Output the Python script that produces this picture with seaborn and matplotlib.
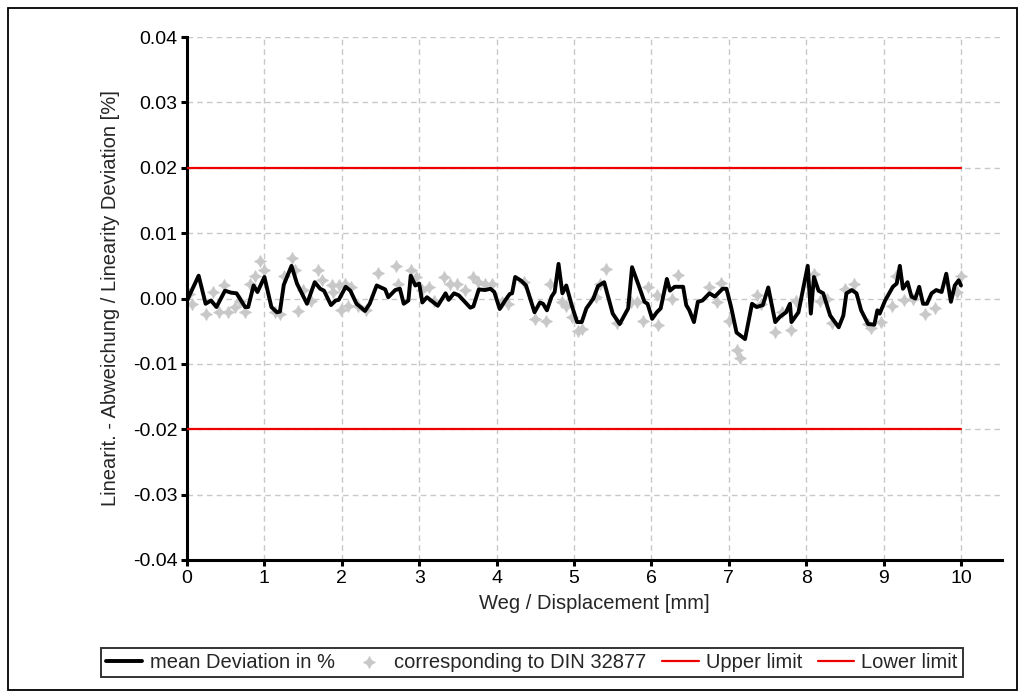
import matplotlib
matplotlib.use('Agg')
import seaborn as sns
import matplotlib.pyplot as plt
from matplotlib.patches import Rectangle
from matplotlib.ticker import FormatStrFormatter, MultipleLocator
import pandas as pd

sns.set_style("whitegrid")
plt.rcParams['font.family'] = ['Liberation Sans', 'DejaVu Sans']
plt.rcParams['axes.unicode_minus'] = False

# mean deviation curve
mean_x = [0.00, 0.15, 0.24, 0.31, 0.38, 0.49, 0.57, 0.64, 0.75, 0.79, 0.86, 0.91, 1.00, 1.09, 1.16,
          1.20, 1.25, 1.35, 1.42, 1.55, 1.65, 1.72, 1.77, 1.86, 1.92, 1.96, 2.05, 2.11, 2.19, 2.30,
          2.36, 2.45, 2.56, 2.60, 2.69, 2.75, 2.80, 2.86, 2.89, 2.95, 3.00, 3.04, 3.10, 3.24, 3.34,
          3.38, 3.45, 3.51, 3.66, 3.70, 3.77, 3.85, 3.92, 3.97, 4.04, 4.11, 4.17, 4.20, 4.24, 4.32,
          4.38, 4.49, 4.56, 4.60, 4.65, 4.71, 4.75, 4.80, 4.85, 4.90, 4.97, 5.04, 5.10, 5.16, 5.25,
          5.31, 5.39, 5.50, 5.59, 5.70, 5.75, 5.83, 5.91, 5.95, 6.01, 6.07, 6.12, 6.20, 6.24, 6.30,
          6.41, 6.45, 6.49, 6.55, 6.60, 6.66, 6.75, 6.82, 6.92, 6.97, 7.03, 7.10, 7.21, 7.30, 7.36,
          7.44, 7.51, 7.60, 7.66, 7.74, 7.79, 7.81, 7.90, 8.02, 8.06, 8.10, 8.16, 8.22, 8.31, 8.42,
          8.48, 8.52, 8.59, 8.65, 8.71, 8.80, 8.88, 8.92, 8.95, 9.02, 9.12, 9.17, 9.21, 9.25, 9.31,
          9.36, 9.41, 9.46, 9.51, 9.56, 9.62, 9.68, 9.75, 9.81, 9.87, 9.92, 9.97, 10.00]
mean_y = [-0.0003, 0.0035, -0.0008, -0.0003, -0.0013, 0.0012, 0.0009, 0.0008, -0.0013, -0.0013,
          0.0020, 0.0010, 0.0033, -0.0013, -0.0021, -0.0020, 0.0021, 0.0050, 0.0023, -0.0008,
          0.0025, 0.0015, 0.0012, -0.0010, -0.0003, -0.0002, 0.0018, 0.0012, -0.0008, -0.0019,
          -0.0008, 0.0020, 0.0014, 0.0002, 0.0013, 0.0015, -0.0008, -0.0003, 0.0035, 0.0020,
          0.0023, -0.0006, 0.0002, -0.0011, 0.0008, -0.0002, 0.0008, 0.0005, -0.0014, -0.0012,
          0.0014, 0.0013, 0.0015, 0.0010, -0.0016, -0.0003, 0.0007, 0.0008, 0.0033, 0.0027,
          0.0020, -0.0021, -0.0006, -0.0008, -0.0018, 0.0003, 0.0010, 0.0053, 0.0008, 0.0020,
          -0.0010, -0.0036, -0.0036, -0.0015, 0.0000, 0.0019, 0.0025, -0.0023, -0.0039, -0.0015,
          0.0048, 0.0022, -0.0005, -0.0008, -0.0031, -0.0021, -0.0015, 0.0030, 0.0012, 0.0018,
          0.0018, -0.0010, -0.0018, -0.0036, -0.0005, -0.0003, 0.0008, 0.0003, 0.0015, 0.0015,
          -0.0013, -0.0052, -0.0062, -0.0008, -0.0013, -0.0010, 0.0017, -0.0036, -0.0028, -0.0021,
          -0.0008, -0.0036, -0.0021, 0.0050, -0.0023, 0.0033, 0.0012, 0.0008, -0.0026, -0.0044,
          -0.0026, 0.0008, 0.0013, 0.0008, -0.0018, -0.0039, -0.0040, -0.0018, -0.0023, -0.0003,
          0.0018, 0.0023, 0.0050, 0.0015, 0.0025, 0.0003, 0.0000, 0.0018, -0.0008, -0.0008,
          0.0008, 0.0013, 0.0010, 0.0038, -0.0005, 0.0020, 0.0028, 0.0020]

# single measurements (grey markers)
din_x = [0.02, 0.06, 0.25, 0.34, 0.41, 0.48, 0.53, 0.62, 0.68, 0.75, 0.81, 0.88, 0.94, 1.00, 1.14,
         1.20, 1.25, 1.35, 1.40, 1.44, 1.50, 1.60, 1.69, 1.74, 1.87, 1.89, 1.96, 1.99, 2.04, 2.08,
         2.12, 2.21, 2.31, 2.47, 2.70, 2.73, 2.90, 2.96, 3.04, 3.13, 3.19, 3.32, 3.40, 3.49, 3.59,
         3.70, 3.76, 3.85, 3.94, 4.07, 4.15, 4.36, 4.49, 4.64, 4.69, 4.84, 4.90, 4.97, 5.05, 5.10,
         5.28, 5.34, 5.41, 5.56, 5.73, 5.81, 5.89, 5.95, 6.07, 6.09, 6.26, 6.35, 6.75, 6.85, 6.90,
         7.00, 7.10, 7.15, 7.36, 7.41, 7.60, 7.69, 7.81, 7.87, 8.10, 8.18, 8.27, 8.33, 8.50, 8.62,
         8.80, 8.84, 8.97, 9.11, 9.16, 9.27, 9.38, 9.53, 9.67, 9.95, 10.00]
din_y = [0.0007, -0.0008, -0.0023, 0.0010, -0.0021, 0.0020, -0.0021, -0.0013, -0.0003, -0.0021,
         0.0023, 0.0035, 0.0058, 0.0043, -0.0021, -0.0023, 0.0035, 0.0062, 0.0043, -0.0019,
         0.0013, -0.0003, 0.0043, 0.0029, 0.0021, 0.0010, 0.0021, -0.0018, 0.0022, -0.0012,
         0.0017, -0.0012, -0.0018, 0.0039, 0.0050, 0.0023, 0.0043, 0.0033, 0.0013, 0.0018,
         -0.0003, 0.0033, 0.0023, 0.0023, 0.0013, 0.0033, 0.0025, 0.0023, 0.0023, -0.0006,
         -0.0008, 0.0025, -0.0031, -0.0035, 0.0023, -0.0005, -0.0012, -0.0028, -0.0049, -0.0047,
         0.0003, 0.0022, 0.0045, -0.0037, -0.0006, -0.0006, -0.0035, 0.0018, 0.0005, -0.0040,
         0.0000, 0.0036, 0.0017, -0.0006, 0.0024, -0.0035, -0.0078, -0.0091, 0.0005, -0.0008,
         -0.0051, -0.0021, -0.0048, -0.0003, 0.0038, -0.0003, 0.0000, -0.0038, 0.0015, 0.0022,
         -0.0039, -0.0045, -0.0036, -0.0011, 0.0034, -0.0002, -0.0001, -0.0023, -0.0015, 0.0010,
         0.0035]

limit_x = [0, 10]
upper = [0.02, 0.02]
lower = [-0.02, -0.02]

fig = plt.figure(figsize=(10.26, 7.0), dpi=100)
ax = fig.add_axes([0.1823, 0.2, 0.7943, 0.747])

sns.scatterplot(x=din_x, y=din_y, ax=ax, marker=(4, 1, 0), s=75, color="#c8c8c8",
                edgecolor="#c8c8c8", linewidth=0.5, label="corresponding to DIN 32877", zorder=2)
sns.lineplot(x=mean_x, y=mean_y, ax=ax, color="black", linewidth=2.8,
             label="mean Deviation in %", zorder=3, sort=False)
sns.lineplot(x=limit_x, y=upper, ax=ax, color="#ee0000", linewidth=1.6, label="Upper limit", zorder=3)
sns.lineplot(x=limit_x, y=lower, ax=ax, color="#ee0000", linewidth=1.6, label="Lower limit", zorder=3)

ax.set_xlim(0, 10.53)
ax.set_ylim(-0.04, 0.04)
ax.xaxis.set_major_locator(MultipleLocator(1))
ax.yaxis.set_major_locator(MultipleLocator(0.01))
ax.yaxis.set_major_formatter(FormatStrFormatter('%.2f'))
ax.grid(True, color="#c8c8c8", linestyle=(0, (4, 3)), linewidth=1.0)
ax.set_axisbelow(True)

for s in ["top", "right"]:
    ax.spines[s].set_visible(False)
for s in ["left", "bottom"]:
    ax.spines[s].set_visible(True)
    ax.spines[s].set_color("black")
    ax.spines[s].set_linewidth(2.2)
ax.tick_params(axis="both", direction="out", length=4, width=2.2, color="black",
               labelsize=14, labelcolor="black", pad=3, bottom=True, left=True)

ax.set_xlabel("Weg / Displacement [mm]", fontsize=14.5, labelpad=5)
ax.set_ylabel("Linearit. - Abweichung / Linearity Deviation [%]", fontsize=14.5, labelpad=9)

h, l = ax.get_legend_handles_labels()
order = [l.index("mean Deviation in %"), l.index("corresponding to DIN 32877"),
         l.index("Upper limit"), l.index("Lower limit")]
leg = ax.legend([h[i] for i in order], [l[i] for i in order], ncol=4, loc="center",
                bbox_to_anchor=(0.5185, 0.054), bbox_transform=fig.transFigure,
                frameon=True, fancybox=False, edgecolor="black", fontsize=14.5,
                handlelength=1.8, handletextpad=0.35, columnspacing=0.8, borderpad=0.25,
                borderaxespad=0)
leg.get_frame().set_linewidth(1.4)

fig.patches.append(Rectangle((0.0078, 0.0143), 0.9834, 0.9743, transform=fig.transFigure,
                             fill=False, edgecolor="black", linewidth=1.3))

plt.savefig("out.png", dpi=100)
